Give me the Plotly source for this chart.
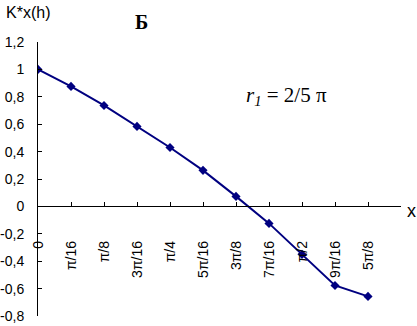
import plotly.graph_objects as go

categories = ["0", "π/16", "π/8", "3π/16", "π/4", "5π/16", "3π/8", "7π/16", "π/2", "9π/16", "5π/8"]
values = [1.0, 0.876, 0.737, 0.584, 0.43, 0.263, 0.073, -0.124, -0.35, -0.577, -0.657]
y_ticks = [-0.8, -0.6, -0.4, -0.2, 0, 0.2, 0.4, 0.6, 0.8, 1.0, 1.2]
y_tick_text = ["-0,8", "-0,6", "-0,4", "-0,2", "0", "0,2", "0,4", "0,6", "0,8", "1", "1,2"]

x_idx = list(range(len(categories)))

fig = go.Figure()
fig.add_trace(go.Scatter(
    x=x_idx, y=values, mode="lines+markers",
    line=dict(color="#000080", width=2),
    marker=dict(symbol="diamond", size=7, color="#000080"),
    showlegend=False,
))

ymin, ymax = -0.8, 1.2
fig.update_layout(
    width=417, height=326,
    margin=dict(l=38, r=16, t=42, b=10),
    plot_bgcolor="white", paper_bgcolor="white",
    separators=", ",
    font=dict(family="Liberation Sans, Arial", size=14, color="black"),
    xaxis=dict(
        range=[0, 11], tickmode="array", tickvals=x_idx + [11],
        ticktext=categories + [""], tickangle=-90,
        showline=True, linecolor="black", linewidth=1,
        ticks="inside", ticklen=4, tickcolor="black",
        showgrid=False, zeroline=False,
        anchor="free", position=(0 - ymin) / (ymax - ymin),
        ticklabelstandoff=28, automargin=False,
        tickfont=dict(size=14),
    ),
    yaxis=dict(
        range=[ymin, ymax], tickmode="array", tickvals=y_ticks,
        ticktext=y_tick_text,
        showline=True, linecolor="black", linewidth=1,
        ticks="inside", ticklen=4, tickcolor="black",
        showgrid=False, zeroline=False,
        ticklabelstandoff=10, automargin=False,
        tickfont=dict(size=14),
    ),
    annotations=[
        dict(text="K*x(h)", xref="paper", yref="paper", x=-34/363, y=1 + 30/274,
             xanchor="left", yanchor="middle", showarrow=False,
             font=dict(size=16, family="Liberation Sans, Arial")),
        dict(text="<b>Б</b>", xref="paper", yref="paper", x=(141-38)/363, y=1 + 20/274,
             xanchor="center", yanchor="middle", showarrow=False,
             font=dict(size=20, family="Liberation Serif, Times New Roman")),
        dict(text="x", xref="paper", yref="paper", x=(411-38)/363, y=(316-211)/274,
             xanchor="center", yanchor="middle", showarrow=False,
             font=dict(size=18, family="Liberation Sans, Arial")),
        dict(text="<i>r<sub>1</sub></i> = 2/5 π", xref="paper", yref="paper",
             x=(244-38)/363, y=(316-96)/274,
             xanchor="left", yanchor="middle", showarrow=False,
             font=dict(size=21, family="Liberation Serif, Times New Roman")),
    ],
)

fig.write_html("out.html", post_script="document.body.style.margin='0';",
               config={"displayModeBar": False})
